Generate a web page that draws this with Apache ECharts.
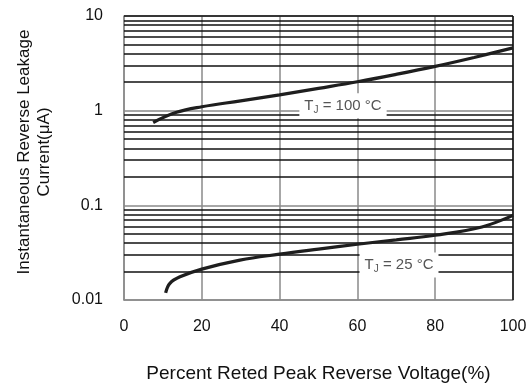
<!DOCTYPE html>
<html>
<head>
<meta charset="utf-8">
<script src="https://cdn.jsdelivr.net/npm/echarts@6/dist/echarts.min.js"></script>
<style>
  html, body { margin: 0; padding: 0; background: #fff; }
  #chart { width: 530px; height: 387px; }
</style>
</head>
<body>
<div id="chart"></div>
<script>
// leakage current (uA) vs percent rated peak reverse voltage
const hotVoltage = [7.5, 13.5, 20, 30, 40, 50, 60, 70, 80, 90, 100]
const hotCurrent = [0.75, 0.96, 1.10, 1.27, 1.47, 1.72, 2.02, 2.42, 2.94, 3.65, 4.6]
const coldVoltage = [10.7, 11.8, 14.4, 20, 29.8, 40, 50, 60, 70, 80, 92, 100]
const coldCurrent = [0.0119, 0.0150, 0.0176, 0.0212, 0.0264, 0.0305, 0.0345, 0.0388, 0.0432, 0.0483, 0.0591, 0.0785]

const xTicks = [0, 20, 40, 60, 80, 100]
const yTicks = [0.01, 0.1, 1, 10]
// minor log grid lines (2..9 per decade)
const minorLines = [
  0.02, 0.03, 0.04, 0.05, 0.06, 0.07, 0.08, 0.09,
  0.2, 0.3, 0.4, 0.5, 0.6, 0.7, 0.8, 0.9,
  2, 3, 4, 5, 6, 7, 8, 9, 10
]

const hotLabel = { name: '100', coord: [56.3, 1.13] }
const coldLabel = { name: '25', coord: [70.7, 0.0234] }

const font = '"Liberation Sans", Arial, sans-serif'
const curveColor = '#1e1e1e'

function pairs(xs, ys) { return xs.map((x, i) => [x, ys[i]]) }

function tagPoint(tag) {
  return {
    coord: tag.coord,
    symbol: 'rect',
    symbolSize: 1,
    itemStyle: { color: 'rgba(0,0,0,0)' },
    label: {
      show: true,
      position: 'inside',
      backgroundColor: '#fff',
      padding: [3, 5],
      formatter: '{t|T}{s|J}{t| = ' + tag.name + ' °C}',
      rich: {
        t: { fontFamily: font, fontSize: 15, color: '#555' },
        s: { fontFamily: font, fontSize: 10, color: '#555', verticalAlign: 'bottom', padding: [9, 0, 0, 0] }
      }
    }
  }
}

const chart = echarts.init(document.getElementById('chart'), null, { renderer: 'canvas' })
chart.setOption({
  animation: false,
  backgroundColor: '#fff',
  grid: { left: 124, right: 17, top: 16, bottom: 87, outerBoundsMode: 'none' },
  xAxis: {
    type: 'value',
    min: xTicks[0],
    max: xTicks[xTicks.length - 1],
    interval: 20,
    name: 'Percent Reted Peak Reverse Voltage(%)',
    nameLocation: 'middle',
    nameGap: 64,
    nameTextStyle: { fontFamily: font, fontSize: 19, color: '#111' },
    axisLine: { lineStyle: { color: '#8a8a8a', width: 1.5 } },
    axisTick: { show: false },
    axisLabel: { fontFamily: font, fontSize: 16, color: '#111', margin: 19 },
    splitLine: { lineStyle: { color: '#8a8a8a', width: 1.5 } }
  },
  yAxis: {
    type: 'log',
    logBase: 10,
    min: yTicks[0],
    max: yTicks[yTicks.length - 1],
    name: 'Instantaneous Reverse Leakage\nCurrent(μA)',
    nameLocation: 'middle',
    nameRotate: 90,
    nameGap: 70,
    nameTextStyle: { fontFamily: font, fontSize: 17, color: '#111', lineHeight: 20, padding: [0, 0, 0, 12] },
    axisLine: { lineStyle: { color: '#8a8a8a', width: 1.5 } },
    axisTick: { show: false },
    axisLabel: {
      fontFamily: font, fontSize: 16, color: '#111', margin: 21,
      formatter: v => String(+v.toPrecision(3))
    },
    splitLine: { lineStyle: { color: '#8a8a8a', width: 1.5 } }
  },
  series: [
    {
      type: 'line',
      data: pairs(coldVoltage, coldCurrent),
      smooth: 0.4,
      showSymbol: false,
      z: 5,
      lineStyle: { color: curveColor, width: 3.2 },
      markLine: {
        silent: true,
        symbol: 'none',
        label: { show: false },
        lineStyle: { color: '#111', width: 1.5, type: 'solid' },
        data: minorLines.map(v => ({ yAxis: v })).concat([{ xAxis: 100 }])
      },
      markPoint: { data: [tagPoint(coldLabel)] }
    },
    {
      type: 'line',
      data: pairs(hotVoltage, hotCurrent),
      smooth: 0.4,
      showSymbol: false,
      z: 5,
      lineStyle: { color: curveColor, width: 3.2 },
      markPoint: { data: [tagPoint(hotLabel)] }
    }
  ]
})
</script>
</body>
</html>
